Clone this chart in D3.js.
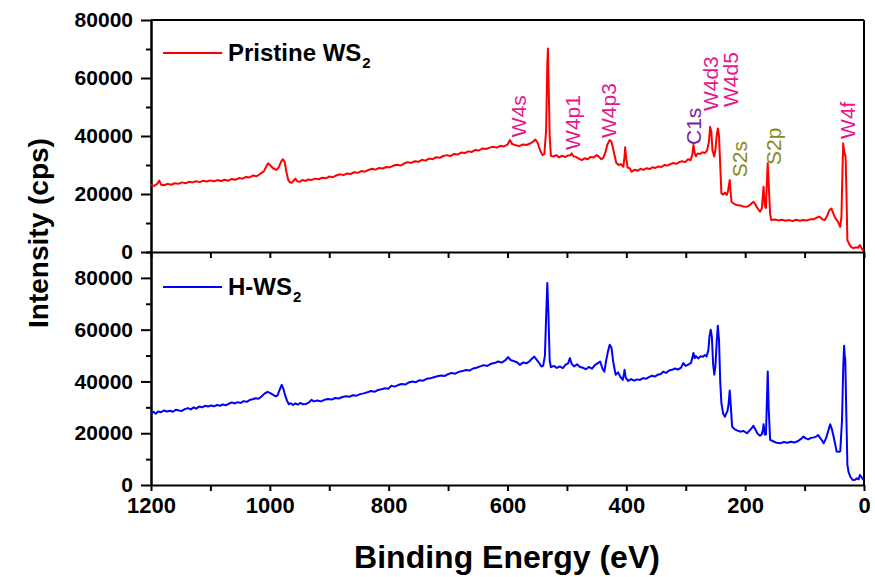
<!DOCTYPE html>
<html>
<head>
<meta charset="utf-8">
<script src="https://cdn.jsdelivr.net/npm/d3@7"></script>
<style>
  body { margin: 0; background: #fff; }
  svg { display: block; font-family: "Liberation Sans", Arial, sans-serif; }
  .axis path, .axis line { stroke: #000; stroke-width: 2; }
  .axis text { font-size: 21px; font-weight: bold; fill: #000; }
  .xaxis text { font-size: 22px; }
</style>
</head>
<body>
<svg id="xps" width="875" height="577"></svg>
<script>
// XPS survey spectra, [binding energy (eV), intensity (cps)]
var pristine = [
  [1200,23100],[1195,22800],[1190,23400],[1186,24600],[1183,23200],[1178,23000],[1172,23500],[1166,23200],
  [1160,23700],[1154,23500],[1148,24000],[1142,23700],[1136,24200],[1130,24000],[1124,24400],[1118,24100],
  [1112,24600],[1106,24300],[1100,24700],[1094,24400],[1088,24800],[1082,24500],[1076,24900],[1070,24600],
  [1064,25200],[1058,24900],[1052,25500],[1046,25300],[1040,25900],[1034,25700],[1028,26400],[1022,26100],
  [1016,27000],[1010,27800],[1006,29500],[1003,30600],[999,29800],[994,28800],[989,28300],[985,29200],
  [981,31200],[978,32000],[975,31000],[972,27500],[969,24800],[966,24000],[963,23900],[960,24600],
  [957,25300],[954,24400],[950,24200],[945,24800],[940,24500],[935,25000],[930,24800],[924,25300],
  [918,25100],[912,25600],[906,25400],[900,26000],[894,25800],[888,26400],[882,26800],[876,26500],
  [870,27100],[864,26900],[858,27500],[852,27300],[846,27900],[840,27700],[834,28300],[828,28700],
  [822,28400],[816,29000],[810,28800],[804,29300],[798,29200],[792,29800],[786,30100],[780,29800],
  [774,30500],[768,31000],[762,30700],[756,31300],[750,31100],[744,31800],[738,31500],[732,32200],
  [726,32000],[720,32700],[714,32500],[708,33100],[702,33400],[696,33100],[690,33800],[684,33600],
  [678,34300],[672,34100],[666,34700],[660,34500],[654,35200],[648,35000],[642,35700],[636,35500],
  [630,36000],[624,36300],[618,36000],[612,36600],[606,36400],[600,37000],[596,38600],[592,37200],
  [586,36800],[580,36500],[574,37100],[568,36900],[562,37400],[556,38200],[553,38800],[549,37500],
  [545,35000],[541,33400],[538,33800],[535,42000],[533,65000],[532,70200],[531,60000],[529,40000],
  [527,33200],[523,32900],[518,33400],[513,32600],[508,33200],[503,32700],[498,33300],[494,33400],
  [492,34000],[489,33000],[485,32800],[480,32200],[475,31700],[470,32300],[465,32000],[460,32800],
  [455,32600],[450,33400],[446,32800],[442,32000],[439,32400],[435,34500],[432,37000],[428,38600],
  [425,38000],[421,34500],[417,30800],[413,30000],[409,30300],[405,29400],[403,33000],[402,36100],
  [400,32000],[398,29200],[394,28800],[391,27700],[386,28400],[381,28000],[376,28700],[371,28300],
  [366,28900],[361,28600],[356,29200],[351,29000],[346,29500],[341,29300],[336,30000],[331,29800],
  [326,30300],[321,30700],[316,30400],[311,31000],[306,31300],[301,31000],[296,32000],[292,31600],
  [289,33500],[287,36900],[285,34200],[283,33000],[280,34000],[276,33800],[272,34400],[268,34100],
  [264,35000],[261,38000],[259,43200],[257,41500],[255,35000],[252,32900],[250,35500],[248,40000],
  [246,42600],[244,40000],[242,30000],[240,20200],[237,19800],[234,20500],[231,19700],[229,20800],
  [227,23500],[226,24800],[225,22000],[223,17300],[219,16600],[214,16200],[208,16000],[203,15700],
  [197,15600],[192,16200],[188,17000],[186,17300],[183,16500],[179,15000],[175,13900],[172,15000],
  [170,20000],[169,22500],[167,16000],[165,15200],[163.5,24000],[162,30600],[160.5,24000],[158,13000],
  [156,11000],[150,11200],[144,10900],[138,11100],[132,10800],[126,11000],[120,10700],[114,11100],
  [108,10800],[102,11000],[96,10900],[90,11300],[85,11300],[80,11800],[75,12200],[70,11300],
  [66,11000],[62,12500],[58,14500],[55,15000],[52,13500],[48,11600],[44,10500],[40,8700],
  [38,12000],[36,30000],[35,37500],[33.5,35000],[32,33500],[31,32900],[29.5,20000],[28,4100],
  [25,2800],[22,1800],[18,1300],[14,1600],[10,1500],[7,2400],[4,1200],[1,500]
];

var hydro = [
  [1200,27700],[1196,28300],[1192,27500],[1188,28400],[1183,28100],[1178,28800],[1173,28400],[1168,28700],
  [1163,28300],[1158,29100],[1153,28800],[1148,28600],[1143,29300],[1138,29700],[1133,29200],[1128,30000],
  [1124,29500],[1119,30300],[1114,30000],[1109,30600],[1104,30300],[1099,30700],[1094,30400],[1089,30900],
  [1084,30600],[1079,31100],[1074,30800],[1069,31400],[1064,31900],[1059,31500],[1054,32000],[1049,31700],
  [1044,32400],[1039,32100],[1034,32800],[1029,33100],[1024,33500],[1019,33300],[1014,34200],[1009,35300],
  [1004,36000],[1000,35600],[995,34900],[990,34200],[987,34600],[984,36500],[980,38700],[977,37000],
  [974,34500],[971,32500],[968,31200],[965,31600],[961,30900],[957,31500],[953,31000],[949,31700],
  [944,31200],[939,31300],[934,31900],[930,32900],[926,32300],[920,32600],[914,32300],[908,32900],
  [902,33200],[896,33000],[890,33600],[884,33400],[878,34000],[872,34300],[866,34100],[860,34700],
  [854,34500],[848,35100],[842,35400],[836,35800],[830,36300],[824,36000],[818,36700],[812,37000],
  [806,37400],[800,37200],[796,38300],[790,38000],[784,38600],[778,39000],[772,38800],[766,39600],
  [760,40000],[754,39700],[748,40500],[742,40300],[736,41000],[730,41200],[724,41600],[718,42000],
  [712,42300],[706,42100],[700,42800],[694,43300],[688,43000],[682,43700],[676,44000],[670,44400],
  [664,44200],[658,45000],[652,45300],[646,45800],[640,46300],[634,46000],[628,46800],[622,47100],
  [616,47700],[610,47300],[604,48100],[599,49400],[595,48300],[590,47900],[584,47400],[579,46400],
  [574,47300],[568,47000],[563,47800],[558,49000],[555,49600],[551,48400],[547,47200],[543,45800],
  [540,46000],[537,50000],[535,65000],[533,78000],[531,65000],[529,48000],[527,45500],[522,46000],
  [517,45200],[512,45800],[507,45100],[502,46500],[498,47000],[495,49000],[492,46800],[488,45800],
  [483,46600],[478,45600],[473,45300],[468,44700],[463,45600],[458,44900],[453,46300],[448,47100],
  [444,47700],[440,44800],[437,43800],[434,48000],[431,51500],[428,54200],[425,53000],[422,47500],
  [418,42600],[414,43500],[410,41800],[406,40600],[404,43000],[403,44500],[401,41500],[397,40200],
  [392,40900],[387,40300],[382,40800],[377,40600],[372,41300],[367,41000],[362,41700],[357,42200],
  [352,41900],[347,42600],[342,42900],[338,43800],[333,43300],[328,44200],[323,44500],[318,45000],
  [313,44600],[308,45300],[304,47100],[300,46000],[296,46500],[291,47200],[288,50000],[287,51000],
  [285,49000],[283,49800],[279,48900],[275,49700],[271,49500],[268,50200],[265,49600],[262,52000],
  [260,57500],[258,60000],[256,57000],[254,47000],[252,42600],[250,46000],[248,55000],[246,61500],
  [244,56000],[242,40000],[240,31600],[237,27500],[234,26400],[232,27600],[230,28400],[228,31000],
  [226,36500],[224,30000],[222,22600],[218,21600],[213,21000],[208,20600],[203,20900],[197,20000],
  [192,21200],[188,22300],[186,22900],[183,21500],[179,19800],[175,19000],[172,19600],[170,21500],
  [169,23500],[167,19500],[165,19500],[163.5,32000],[162,43800],[160.5,30000],[158,17400],[152,16800],
  [147,16300],[141,16100],[135,16600],[129,16300],[123,16700],[117,16400],[111,17000],[106,17800],
  [102,18700],[98,18000],[94,17600],[89,18200],[84,18400],[80,18800],[77,19300],[74,18200],
  [70,17000],[68,16100],[64,18000],[60,21000],[57,23500],[54,21500],[50,17500],[46,12900],
  [42,12800],[40,13000],[37,25000],[35,45000],[33.5,53800],[32.5,50000],[31.5,48400],[30,30000],
  [28,8000],[26,5000],[23,3200],[20,2200],[18,1900],[15,2000],[12,2600],[9,2200],
  [7,3900],[4,3000],[1,1900]
];

var xTicks = [1200, 1100, 1000, 900, 800, 700, 600, 500, 400, 300, 200, 100, 0];
var yMajor = [0, 20000, 40000, 60000, 80000];
var yMinorTop = [10000, 30000, 50000, 70000];
var yMinorBot = [10000, 30000, 50000, 70000, 90000];

// peak labels: name, energy of text baseline, intensity where text starts, colour group
var peakNames = ['W4s', 'W4p1', 'W4p3', 'C1s', 'W4d3', 'W4d5', 'S2s', 'S2p', 'W4f'];
var peakEnergy = [569, 478, 418, 274, 246, 212, 197, 140, 15];
var peakBase = [39600, 35200, 39300, 36900, 48600, 50000, 25800, 30000, 39000];
var peakGroup = ['W', 'W', 'W', 'C', 'W', 'W', 'S', 'S', 'W'];
var groupColor = {W: '#e5188b', C: '#7b1e9a', S: '#8a8a12'};

var svg = d3.select('svg#xps');
var left = 151, right = 864;
var topY = 20, midY = 252, botY = 485;

var x = d3.scaleLinear().domain([1200, 0]).range([left, right]);
var yTop = d3.scaleLinear().domain([0, 80000]).range([midY, topY]);
var yBot = d3.scaleLinear().domain([0, 90000]).range([botY, midY]);

// frame lines (top & right)
svg.append('line').attr('x1', left).attr('x2', right).attr('y1', topY).attr('y2', topY)
   .attr('stroke', '#000').attr('stroke-width', 2);
svg.append('line').attr('x1', right).attr('x2', right).attr('y1', topY).attr('y2', botY)
   .attr('stroke', '#000').attr('stroke-width', 2);

// y axes
function yAxes(scale, minor) {
    svg.append('g').attr('class', 'axis').attr('transform', 'translate(' + left + ',0)')
       .call(d3.axisLeft(scale).tickValues(minor).tickSize(5).tickSizeOuter(0).tickFormat(''));
    svg.append('g').attr('class', 'axis').attr('transform', 'translate(' + left + ',0)')
       .call(d3.axisLeft(scale).tickValues(yMajor).tickSize(10).tickSizeOuter(0).tickPadding(8)
             .tickFormat(d3.format('d')));
}
yAxes(yTop, yMinorTop);
yAxes(yBot, yMinorBot);

// x axes
svg.append('g').attr('class', 'axis').attr('transform', 'translate(0,' + midY + ')')
   .call(d3.axisBottom(x).tickValues(xTicks).tickSize(6).tickSizeOuter(0).tickFormat(''));
svg.append('g').attr('class', 'axis xaxis').attr('transform', 'translate(0,' + botY + ')')
   .call(d3.axisBottom(x).tickValues(xTicks).tickSize(6).tickSizeOuter(0).tickPadding(6)
         .tickFormat(function(d) { return d % 200 === 0 ? d : ''; }));

// spectra
var lineTop = d3.line().x(function(d) { return x(d[0]); }).y(function(d) { return yTop(d[1]); });
var lineBot = d3.line().x(function(d) { return x(d[0]); }).y(function(d) { return yBot(d[1]); });

svg.append('path').datum(pristine).attr('d', lineTop)
   .attr('fill', 'none').attr('stroke', '#ff0000').attr('stroke-width', 2).attr('stroke-linejoin', 'round');
svg.append('path').datum(hydro).attr('d', lineBot)
   .attr('fill', 'none').attr('stroke', '#0000ff').attr('stroke-width', 2).attr('stroke-linejoin', 'round');

// legends
function legend(y, color, name) {
    svg.append('line').attr('x1', 163).attr('x2', 222).attr('y1', y).attr('y2', y)
       .attr('stroke', color).attr('stroke-width', 2);
    var t = svg.append('text').attr('x', 228).attr('y', y + 8)
       .attr('font-size', 24).attr('font-weight', 'bold');
    t.append('tspan').text(name);
    t.append('tspan').attr('font-size', 15).attr('dx', 1).attr('dy', 7).text('2');
}
legend(53, '#ff0000', 'Pristine WS');
legend(287, '#0000ff', 'H-WS');

// peak labels
peakNames.forEach(function(n, i) {
    svg.append('text')
       .attr('transform', 'translate(' + x(peakEnergy[i]) + ',' + yTop(peakBase[i]) + ') rotate(-90)')
       .attr('font-size', 21)
       .attr('fill', groupColor[peakGroup[i]])
       .text(n);
});

// axis titles
svg.append('text').attr('transform', 'translate(48,233) rotate(-90)')
   .attr('text-anchor', 'middle').attr('font-size', 28).attr('font-weight', 'bold')
   .text('Intensity (cps)');
svg.append('text').attr('x', 507).attr('y', 568)
   .attr('text-anchor', 'middle').attr('font-size', 32).attr('font-weight', 'bold')
   .text('Binding Energy (eV)');
</script>
</body>
</html>
